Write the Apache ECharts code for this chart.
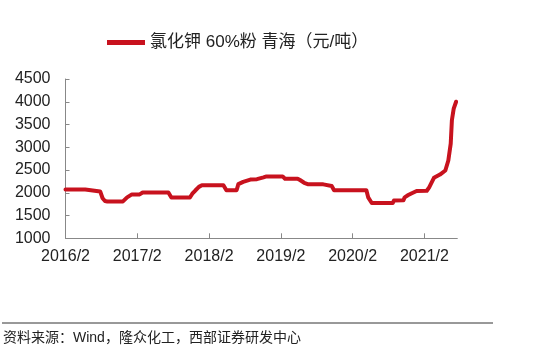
<!DOCTYPE html>
<html>
<head>
<meta charset="utf-8">
<script src="https://cdn.jsdelivr.net/npm/echarts@6/dist/echarts.min.js"></script>
<style>html,body{margin:0;padding:0;background:#fff;}#c{width:549px;height:364px;}</style>
</head>
<body>
<div id="c"></div>
<script>
// months elapsed since 2016/2
var months = [0, 3.3, 3.6, 5.8, 6.2, 6.6, 7.0, 9.6, 9.9, 10.3, 10.6, 11.1, 12.4, 12.9, 17.2, 17.7,
  20.8, 21.2, 21.7, 22.3, 22.8, 26.4, 26.9, 28.6, 28.9, 29.7, 30.9, 32.0, 33.1, 33.6, 36.3, 36.7,
  38.8, 39.2, 39.9, 40.6, 43.1, 43.4, 44.5, 44.9, 50.3, 50.6, 51.2, 54.7, 54.9, 56.5, 56.7, 57.3,
  57.9, 58.7, 60.4, 60.8, 61.3, 61.6, 62.6, 63.5, 64.0, 64.4, 64.6, 64.9, 65.3];
var values = [2070, 2070, 2030, 2030, 1880, 1820, 1810, 1810, 1850, 1900, 1940, 1965, 1965, 2005, 2005, 1895,
  1895, 1980, 2050, 2130, 2165, 2165, 2055, 2055, 2190, 2240, 2290, 2300, 2340, 2360, 2360, 2310,
  2310, 2280, 2220, 2185, 2185, 2150, 2150, 2055, 2055, 1900, 1775, 1775, 1830, 1835, 1900, 1950,
  1990, 2040, 2045, 2120, 2250, 2330, 2400, 2490, 2710, 3080, 3600, 3850, 4000];
var tickMonths = [0, 12, 24, 36, 48, 60];
var tickLabels = ['2016/2', '2017/2', '2018/2', '2019/2', '2020/2', '2021/2'];
var seriesName = '氯化钾 60%粉 青海（元/吨）';
var sourceText = '资料来源：Wind，隆众化工，西部证券研发中心';

var data = months.map(function (m, i) { return [m, values[i]]; });
var FONT = '"Liberation Sans", Arial, "Noto Sans CJK SC", sans-serif';

var chart = echarts.init(document.getElementById('c'), null, {renderer: 'canvas'});
chart.setOption({
  animation: false,
  backgroundColor: '#ffffff',
  textStyle: {fontFamily: FONT},
  legend: {
    left: 107, top: 34, padding: 0,
    icon: 'rect', itemWidth: 38, itemHeight: 5, itemGap: 5,
    textStyle: {fontSize: 17, color: '#222', fontFamily: FONT},
    data: [seriesName]
  },
  grid: {left: 65.5, right: 91.7, top: 79, bottom: 125.7, containLabel: false},
  xAxis: {
    type: 'value', min: 0, max: 65.5,
    splitLine: {show: false},
    axisLine: {lineStyle: {color: '#888', width: 1}},
    axisTick: {show: true, inside: true, length: 5, customValues: tickMonths, lineStyle: {color: '#888'}},
    axisLabel: {
      customValues: tickMonths, margin: 10, fontSize: 16, color: '#222', fontFamily: FONT,
      formatter: function (v) { var i = tickMonths.indexOf(v); return i >= 0 ? tickLabels[i] : ''; }
    }
  },
  yAxis: {
    type: 'value', min: 1000, max: 4500, interval: 500,
    splitLine: {show: false},
    axisLine: {show: true, lineStyle: {color: '#888', width: 1}},
    axisTick: {show: true, inside: true, length: 4, lineStyle: {color: '#888'}},
    axisLabel: {margin: 15, fontSize: 16, color: '#222', fontFamily: FONT,
      formatter: function (v) { return String(v); }}
  },
  series: [{
    name: seriesName, type: 'line', data: data,
    showSymbol: false, symbol: 'none',
    itemStyle: {color: '#C8121E'},
    lineStyle: {color: '#C8121E', width: 4, join: 'round', cap: 'round'}
  }],
  graphic: [
    {type: 'line', shape: {x1: 2, y1: 323, x2: 493, y2: 323}, style: {stroke: '#333', lineWidth: 1}},
    {type: 'text', left: 3, top: 331, style: {text: sourceText, font: '14px ' + FONT, fill: '#222'}}
  ]
});
</script>
</body>
</html>
